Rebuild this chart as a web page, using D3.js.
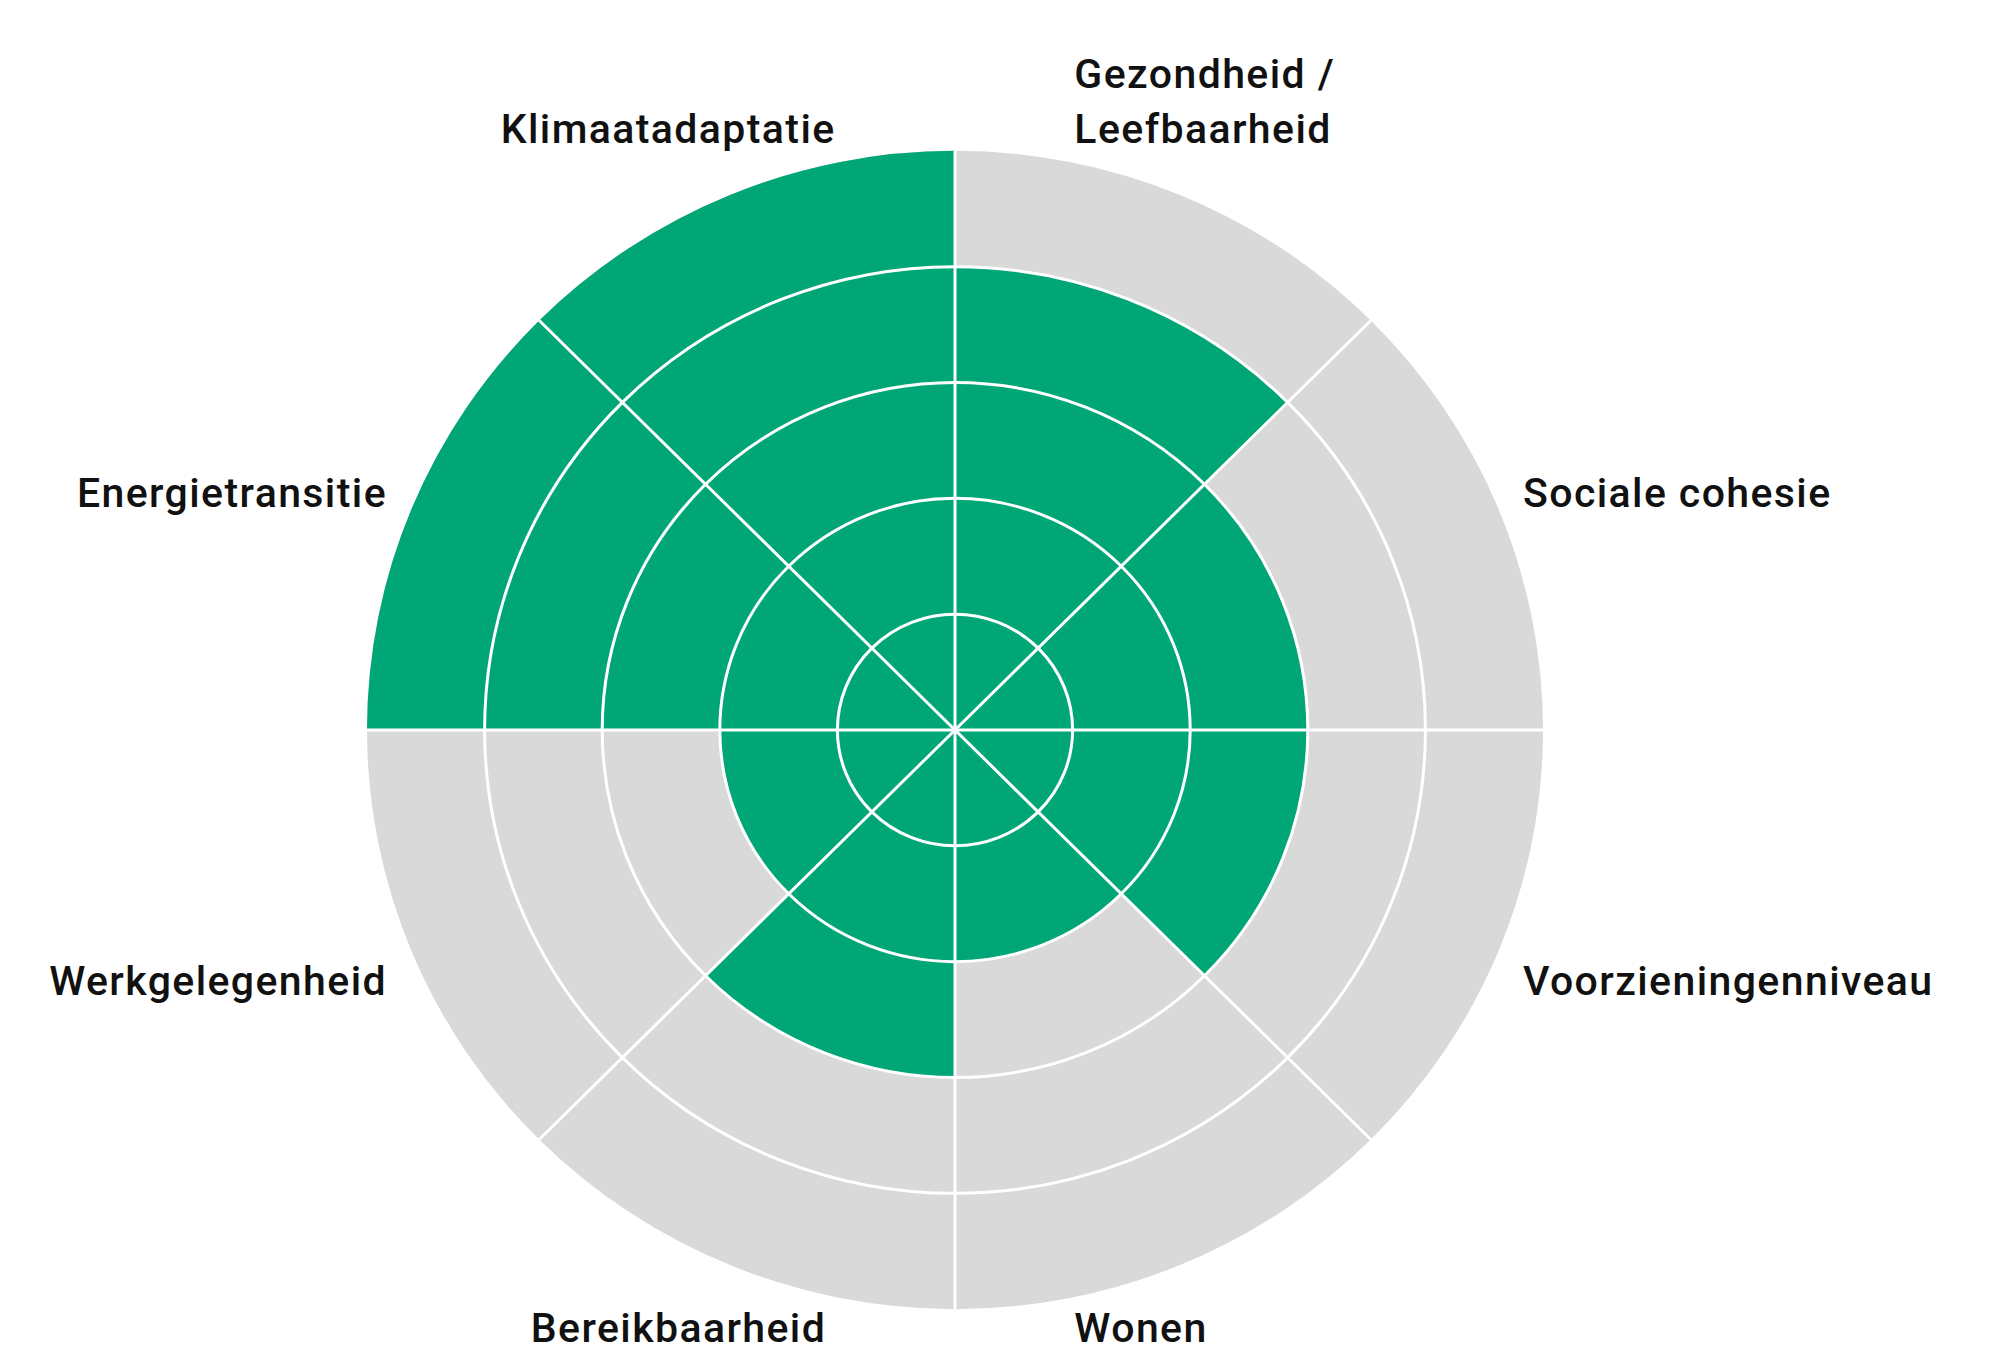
<!DOCTYPE html>
<html>
<head>
<meta charset="utf-8">
<script src="https://cdn.jsdelivr.net/npm/d3@7"></script>
<style>
  body { margin: 0; background: #fff; }
  text { font-family: Roboto, "Noto Sans", sans-serif; font-weight: 500; fill: #111; letter-spacing: 1.4px; }
</style>
</head>
<body>
<svg id="chart"></svg>
<script>
var width = 2014;
var height = 1357;

// categories clockwise from 12 o'clock, score out of 5 rings
var categories = ["Gezondheid / Leefbaarheid", "Sociale cohesie", "Voorzieningenniveau", "Wonen",
                  "Bereikbaarheid", "Werkgelegenheid", "Energietransitie", "Klimaatadaptatie"];
var labelLines = [["Gezondheid /", "Leefbaarheid"], ["Sociale cohesie"], ["Voorzieningenniveau"], ["Wonen"],
                  ["Bereikbaarheid"], ["Werkgelegenheid"], ["Energietransitie"], ["Klimaatadaptatie"]];
var scores = [4, 3, 3, 2, 3, 2, 5, 5];
var ringLevels = [1, 2, 3, 4, 5];

var cx = 955, cy = 730;
var R = 588;
var squash = 0.985; // picture is a bit flatter vertically
var green = "#00a676";
var grey = "#d9d9d9";

var svg = d3.select("#chart")
  .attr("width", width)
  .attr("height", height);

var r = d3.scaleLinear().domain([0, 5]).range([0, R]);
var ang = d3.scaleLinear().domain([0, categories.length]).range([0, 2 * Math.PI]);

var g = svg.append("g")
  .attr("transform", "translate(" + cx + "," + cy + ") scale(1," + squash + ")");

var arc = d3.arc();

// grey background sectors
g.append("g").selectAll("path")
  .data(categories)
  .join("path")
  .attr("d", function(d, i) {
    return arc({innerRadius: 0, outerRadius: r(5), startAngle: ang(i), endAngle: ang(i + 1)});
  })
  .attr("fill", grey);

// green score sectors
g.append("g").selectAll("path")
  .data(scores)
  .join("path")
  .attr("d", function(d, i) {
    return arc({innerRadius: 0, outerRadius: r(d), startAngle: ang(i), endAngle: ang(i + 1)});
  })
  .attr("fill", green);

// ring lines
g.append("g").selectAll("circle")
  .data(ringLevels.slice(0, 4))
  .join("circle")
  .attr("r", function(d) { return r(d); })
  .attr("fill", "none")
  .attr("stroke", "#fff")
  .attr("stroke-width", 3);

// spokes
g.append("g").selectAll("line")
  .data(categories)
  .join("line")
  .attr("x1", 0).attr("y1", 0)
  .attr("x2", function(d, i) { return r(5) * Math.sin(ang(i)); })
  .attr("y2", function(d, i) { return -r(5) * Math.cos(ang(i)); })
  .attr("stroke", "#fff")
  .attr("stroke-width", 3);

// labels
var fontSize = 41;
var labels = svg.append("g").selectAll("text")
  .data(labelLines)
  .join("text")
  .attr("font-size", fontSize)
  .attr("text-anchor", function(d, i) {
    var a = ang(i + 0.5);
    return Math.sin(a) > 0 ? "start" : "end";
  })
  .attr("transform", function(d, i) {
    var a = ang(i + 0.5);
    var sx = Math.sin(a) > 0 ? 1 : -1;
    var top = Math.cos(a) > 0;
    var x, y;
    if (Math.abs(Math.cos(a)) > 0.7) {
      // top / bottom sectors
      x = cx + sx * (sx < 0 && !top ? 0.219 : 0.203) * R;
      y = top ? cy - 1.022 * R - (d.length - 1) * 55 : cy + 1.017 * R;
    } else {
      x = cx + sx * 0.966 * R;
      y = top ? cy - 0.403 * R : cy + 0.427 * R;
    }
    return "translate(" + x + "," + y + ")";
  });

labels.selectAll("tspan")
  .data(function(d) { return d; })
  .join("tspan")
  .attr("x", 0)
  .attr("y", function(d, j) { return j * 55; })
  .attr("dy", "0.35em")
  .text(function(d) { return d; });
</script>
</body>
</html>
